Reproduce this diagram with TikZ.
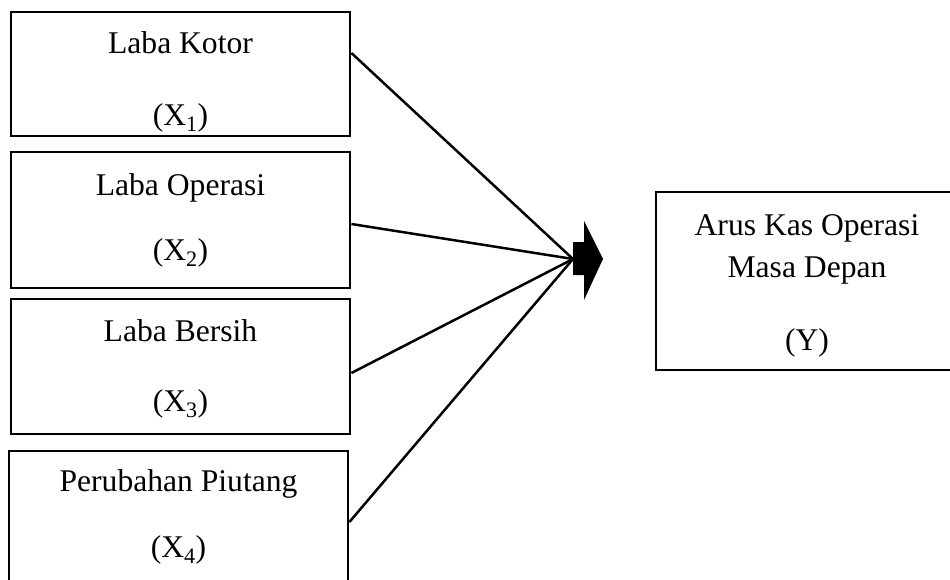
\documentclass[tikz,border=0pt]{standalone}
\usepackage{fontspec}
\setmainfont{Liberation Serif}
\usetikzlibrary{positioning,calc}
\tikzset{
        varbox/.style = {draw, rectangle, line width=2.8pt,
            align=center, inner sep=0pt,
            minimum width=339pt,
            font=\fontsize{31.6}{36}\selectfont},
        link/.style = {draw, line width=2.5pt},
    }

\begin{document}
\begin{tikzpicture}[x=1pt,y=-1pt]
    \useasboundingbox (0,0) rectangle (950,580);
    \clip (0,0) rectangle (950,580);

    % variabel independen
    \node[varbox, minimum height=124pt] (x1) at (180.5,74) {\rule{0pt}{38pt}Laba Kotor\\[36pt](X\textsubscript{1})};
    \node[varbox, minimum height=136pt] (x2) at (180.5,220) {Laba Operasi\\[29pt](X\textsubscript{2})};
    \node[varbox, minimum height=135pt] (x3) at (180.5,366.5) {\rule{0pt}{26pt}Laba Bersih\\[34pt](X\textsubscript{3})};
    \node[varbox, minimum height=132pt] (x4) at (178.5,517) {Perubahan Piutang\\[30pt](X\textsubscript{4})};

    % variabel dependen
    \node[varbox, minimum width=302pt, minimum height=178pt] (y) at (807,281) {\rule{0pt}{31pt}Arus Kas Operasi\\[6pt]Masa Depan\\[37pt](Y)};

    % panah blok
    \coordinate (hub) at (573,259);
    \fill[shift={(hub)}] (0,-17) -- (11,-17) -- (11,-38) -- (30,0) -- (11,41) -- (11,16) -- (0,16) -- cycle;

    \draw[link] ($(x1.east)+(0,-21)$) -- (hub);
    \draw[link] ($(x2.east)+(0,4)$) -- (hub);
    \draw[link] ($(x3.east)+(0,6.5)$) -- (hub);
    \draw[link] ($(x4.east)+(0,5)$) -- (hub);
\end{tikzpicture}
\end{document}
